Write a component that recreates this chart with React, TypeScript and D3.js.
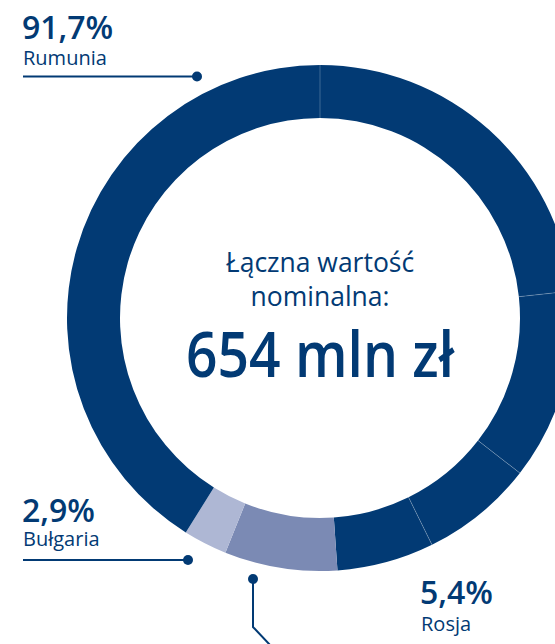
import React from "react";
import * as d3 from "d3";

// Ring segments in clockwise order from 12 o'clock (share of full circle, %)
const segmentGroups = ["Rumunia", "Rumunia", "Rumunia", "Rumunia", "Rosja", "Bułgaria", "Rumunia"];
const segmentValues = [23.3, 12.2, 7.2, 6.2, 7.2, 2.8, 41.1];

const groupNames = ["Rumunia", "Rosja", "Bułgaria"];
const groupColors = ["#023a74", "#7b8ab4", "#aeb7d4"];

const labelValues = ["91,7%", "2,9%", "5,4%"];
const labelNames = ["Rumunia", "Bułgaria", "Rosja"];

const centerLines = ["Łączna wartość", "nominalna:"];
const centerTotal = "654 mln zł";

const W = 555;
const H = 644;
const CX = 320;
const CY = 318;
const R_OUT = 253;
const R_IN = 200;
const TEXT = "#023a74";
const FONT = "'Open Sans', 'Noto Sans', sans-serif";

export default function App() {
  const color = d3.scaleOrdinal<string, string>().domain(groupNames).range(groupColors);
  const data = segmentValues.map((v, i) => ({ v, g: segmentGroups[i] }));
  const pie = d3.pie<{ v: number; g: string }>().value((d) => d.v).sort(null);
  const arcs = pie(data);
  const arcGen = d3.arc<d3.PieArcDatum<{ v: number; g: string }>>().innerRadius(R_IN).outerRadius(R_OUT);

  // separators between same-coloured neighbours
  const seps: number[] = [];
  arcs.forEach((a, i) => {
    const nxt = arcs[(i + 1) % arcs.length];
    if (nxt.data.g === a.data.g && i !== arcs.length - 1) seps.push(a.endAngle);
  });
  seps.push(0);

  return (
    <svg width={W} height={H} style={{ position: "absolute", left: 0, top: 0 }} fontFamily={FONT}>
      <g transform={`translate(${CX},${CY})`}>
        {arcs.map((a, i) => (
          <path key={i} d={arcGen(a) || ""} fill={color(a.data.g)} />
        ))}
        {seps.map((ang, i) => (
          <line
            key={i}
            x1={R_IN * Math.sin(ang)}
            y1={-R_IN * Math.cos(ang)}
            x2={R_OUT * Math.sin(ang)}
            y2={-R_OUT * Math.cos(ang)}
            stroke="#ffffff"
            strokeOpacity={0.3}
            strokeWidth={0.8}
          />
        ))}
      </g>

      {/* centre text */}
      <text x={CX} y={272} textAnchor="middle" fill={TEXT} fontSize={26.5}>
        {centerLines[0]}
      </text>
      <text x={CX} y={306} textAnchor="middle" fill={TEXT} fontSize={26.5}>
        {centerLines[1]}
      </text>
      <text
        x={CX}
        y={377}
        textAnchor="middle"
        fill={TEXT}
        fontSize={63}
        fontWeight={600}
        textLength={268}
        lengthAdjust="spacingAndGlyphs"
      >
        {centerTotal}
      </text>

      {/* Rumunia label */}
      <text x={22} y={39} fill={TEXT} fontSize={32} fontWeight={600}>{labelValues[0]}</text>
      <text x={23} y={65} fill={TEXT} fontSize={20}>{labelNames[0]}</text>
      <line x1={23} y1={76.5} x2={197} y2={76.5} stroke={TEXT} strokeWidth={2} />
      <circle cx={197} cy={76.5} r={5} fill={TEXT} />

      {/* Bułgaria label */}
      <text x={22} y={521.5} fill={TEXT} fontSize={32} fontWeight={600}>{labelValues[1]}</text>
      <text x={23} y={546} fill={TEXT} fontSize={20}>{labelNames[1]}</text>
      <line x1={23} y1={560} x2={188} y2={560} stroke={TEXT} strokeWidth={2} />
      <circle cx={188} cy={560} r={5} fill={TEXT} />

      {/* Rosja label */}
      <text x={420} y={604} fill={TEXT} fontSize={32} fontWeight={600}>{labelValues[2]}</text>
      <text x={421} y={631} fill={TEXT} fontSize={20}>{labelNames[2]}</text>
      <polyline points="253,579 253,627 271,646" fill="none" stroke={TEXT} strokeWidth={2} />
      <circle cx={253} cy={579} r={5} fill={TEXT} />
    </svg>
  );
}
